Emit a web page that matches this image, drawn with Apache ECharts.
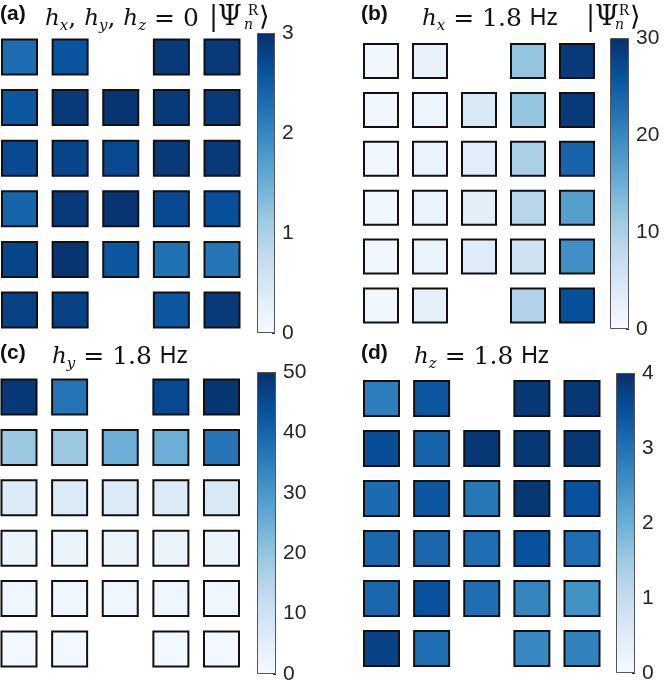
<!DOCTYPE html>
<html>
<head>
<meta charset="UTF-8">
<title>Right eigenstate amplitudes</title>
<script src="https://cdn.jsdelivr.net/npm/echarts@6/dist/echarts.min.js"></script>
<style>
  html, body { margin: 0; padding: 0; background: #fff; }
  #chart { width: 664px; height: 687px; }
</style>
</head>
<body>
<div id="chart"></div>
<script>
// grid values, 6 rows x 5 columns, null = no site
const valuesA = [
  [2.3, 2.6, null, 2.9, 2.9],
  [2.55, 2.9, 2.95, 2.9, 2.9],
  [2.7, 2.75, 2.7, 2.9, 2.9],
  [2.4, 2.9, 2.95, 2.7, 2.65],
  [2.75, 2.95, 2.55, 2.25, 2.2],
  [2.8, 2.8, null, 2.55, 2.9]
];
const valuesB = [
  [1, 2.3, null, 12, 29],
  [1, 1.5, 4.5, 12, 29],
  [1, 2, 3.3, 10, 24],
  [1, 2, 3, 8.8, 17],
  [1, 2, 3.5, 6, 19],
  [1, 2.5, null, 9.5, 26.5]
];
const valuesC = [
  [48.5, 37, null, 45, 49],
  [19, 19, 25, 25, 37],
  [6.5, 6.5, 6.5, 6.5, 7.5],
  [3, 3, 3, 3, 3],
  [1.8, 1.8, 1.8, 1.8, 1.8],
  [1, 1, null, 1, 1]
];
const valuesD = [
  [2.8, 3.4, null, 3.9, 3.9],
  [3.55, 3.2, 3.9, 3.9, 3.9],
  [3.1, 3.4, 2.9, 3.9, 3.5],
  [3.15, 3.15, 3.05, 3.5, 3.05],
  [3.15, 3.5, 3.05, 2.7, 2.5],
  [3.75, 3.05, null, 2.65, 2.75]
];
const panelValues = [valuesA, valuesB, valuesC, valuesD];
const cbarMax = [3, 30, 50, 4];
const cbarStep = [1, 10, 10, 1];
const panelTags = ['(a)', '(b)', '(c)', '(d)'];

const blues = ['#f7fbff', '#deebf7', '#c6dbef', '#9ecae1', '#6baed6',
               '#4292c6', '#2171b5', '#08519c', '#08306b'];

// layout of each panel (square grid + colorbar)
const layout = [
  { heat: { left: 19.5, top: 57, width: 202.5, height: 253 }, size: 35,
    bar: { left: 257, top: 33, width: 18, height: 300 } },
  { heat: { left: 381, top: 61, width: 196, height: 244.5 }, size: 34,
    bar: { left: 610, top: 38, width: 19, height: 291 } },
  { heat: { left: 19, top: 397, width: 202.5, height: 252 }, size: 35,
    bar: { left: 257, top: 372, width: 19, height: 302 } },
  { heat: { left: 381.5, top: 398.5, width: 200.5, height: 250 }, size: 35,
    bar: { left: 616, top: 373, width: 19, height: 300 } }
];

const chart = echarts.init(document.getElementById('chart'));

const grids = [], xAxes = [], yAxes = [], series = [], visualMaps = [];
const labelFont = 'Liberation Sans, Arial, sans-serif';

panelValues.forEach((vals, p) => {
  const L = layout[p];
  grids.push(L.heat, L.bar);
  xAxes.push(
    { gridIndex: p * 2, type: 'value', min: 1, max: 5, show: false },
    { gridIndex: p * 2 + 1, type: 'category', data: [''], show: false }
  );
  yAxes.push(
    { gridIndex: p * 2, type: 'value', min: 1, max: 6, inverse: true, show: false },
    {
      gridIndex: p * 2 + 1, type: 'value', position: 'right',
      min: 0, max: cbarMax[p], interval: cbarStep[p],
      splitLine: { show: false },
      axisLine: { show: false },
      axisTick: { show: true, inside: true, length: 3, lineStyle: { color: '#333', width: 1 } },
      axisLabel: { fontSize: 21, color: '#262626', fontFamily: labelFont, margin: 7 }
    }
  );

  const pts = [];
  vals.forEach((row, r) => row.forEach((v, c) => {
    if (v !== null) pts.push([c + 1, r + 1, v]);
  }));
  const sIdx = series.length;
  series.push({
    type: 'scatter',
    xAxisIndex: p * 2, yAxisIndex: p * 2,
    symbol: 'rect', symbolSize: L.size,
    clip: false, silent: true,
    itemStyle: { borderColor: '#111', borderWidth: 2, opacity: 1 },
    data: pts
  });
  visualMaps.push({
    type: 'continuous', show: false, seriesIndex: sIdx, dimension: 2,
    min: 0, max: cbarMax[p], inRange: { color: blues }
  });
  // colorbar
  series.push({
    type: 'bar',
    xAxisIndex: p * 2 + 1, yAxisIndex: p * 2 + 1,
    barWidth: '100%', silent: true,
    itemStyle: {
      borderColor: '#555', borderWidth: 1,
      color: {
        type: 'linear', x: 0, y: 1, x2: 0, y2: 0,
        colorStops: blues.map((c, i) => ({ offset: i / (blues.length - 1), color: c }))
      }
    },
    data: [cbarMax[p]]
  });
});

// titles
const tagStyle = { fontSize: 21, fontWeight: 'bold', color: '#111', fontFamily: labelFont };
const mathRich = {
  i: { fontFamily: 'DejaVu Serif', fontStyle: 'italic', fontWeight: 'normal', fontSize: 23, color: '#111', lineHeight: 30 },
  n: { fontFamily: 'DejaVu Serif', fontWeight: 'normal', fontSize: 25, color: '#111', lineHeight: 30 },
  p: { fontFamily: 'DejaVu Serif', fontWeight: 'normal', fontSize: 27, color: '#111', lineHeight: 30 },
  s: { fontFamily: 'DejaVu Serif', fontStyle: 'italic', fontWeight: 'normal', fontSize: 15, color: '#111', lineHeight: 15, verticalAlign: 'bottom' },
  hz: { fontFamily: labelFont, fontWeight: 'normal', fontSize: 23, color: '#111', lineHeight: 30 }
};
const mathTitle = (text, left, top) => ({
  text: text, left: left, top: top, padding: 0,
  textStyle: { rich: mathRich, fontSize: 21, fontWeight: 'normal' }
});
const tagTitle = (text, left, top) => ({ text: text, left: left, top: top, padding: 0, textStyle: tagStyle });
const smallTitle = (text, left, top, italic) => ({
  text: text, left: left, top: top, padding: 0,
  textStyle: {
    fontFamily: italic ? 'DejaVu Serif' : 'Liberation Serif',
    fontStyle: italic ? 'italic' : 'normal', fontWeight: 'normal',
    fontSize: italic ? 14 : 16, color: '#111'
  }
});

const titles = [
  tagTitle(panelTags[0], 0, 4),
  mathTitle('{i|h}{s|x}{n|, }{i|h}{s|y}{n|, }{i|h}{s|z}{n| = 0}', 45, 4),
  mathTitle('{p||Ψ}', 209, 3),
  mathTitle('{p|⟩}', 259, 3),
  smallTitle('R', 248, 3, false),
  smallTitle('n', 244, 18, true),

  tagTitle(panelTags[1], 361, 4),
  mathTitle('{i|h}{s|x}{n| = 1.8 }{hz|Hz}', 422, 4),
  mathTitle('{p||Ψ}', 586, 3),
  mathTitle('{p|⟩}', 630, 3),
  smallTitle('R', 619, 3, false),
  smallTitle('n', 615, 18, true),

  tagTitle(panelTags[2], 0, 343),
  mathTitle('{i|h}{s|y}{n| = 1.8 }{hz|Hz}', 52, 342),

  tagTitle(panelTags[3], 361, 343),
  mathTitle('{i|h}{s|z}{n| = 1.8 }{hz|Hz}', 414, 342)
];

chart.setOption({
  animation: false,
  backgroundColor: '#fff',
  title: titles,
  grid: grids,
  xAxis: xAxes,
  yAxis: yAxes,
  visualMap: visualMaps,
  series: series
});
</script>
</body>
</html>
